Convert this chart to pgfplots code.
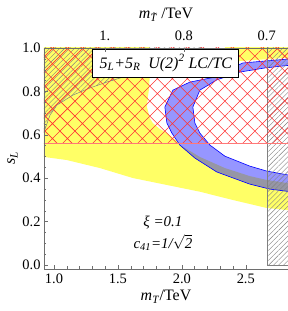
\documentclass[border=0pt]{standalone}
\usepackage{pgfplots}
\pgfplotsset{compat=1.18}
\usepackage{fontspec}
\setmainfont{Liberation Serif}
\usetikzlibrary{patterns.meta}
\definecolor{yel}{RGB}{255,255,102}
\definecolor{bluefill}{RGB}{150,150,255}
\definecolor{grayov}{RGB}{150,150,165}
\definecolor{redhatch}{RGB}{255,50,50}
\definecolor{redborder}{RGB}{255,120,120}
\definecolor{framecol}{RGB}{110,110,110}
\begin{document}
\begin{tikzpicture}
\begin{axis}[name=ax, scale only axis, width=244bp, height=221bp,
 xmin=0.922, xmax=2.83, ymin=-0.018, ymax=1.0,
 xtick={1.0,1.5,2.0,2.5}, xticklabels={1.0,1.5,2.0,2.5}, minor x tick num=4,
 ytick={0,0.2,0.4,0.6,0.8,1.0}, yticklabels={0.0,0.2,0.4,0.6,0.8,1.0}, minor y tick num=3,
 xtick pos=bottom, ytick pos=left, tick align=inside,
 major tick length=4bp, minor tick length=2.5bp,
 tick style={framecol, line width=0.4bp},
 axis line style={line width=0.5bp, framecol},
 ticklabel style={font=\fontsize{14.5}{16}\selectfont},
 xticklabel style={yshift=-1bp},
 xlabel={\textit{m}\textsubscript{\textit{T}}/TeV}, ylabel={\textit{s}\textsubscript{\textit{L}}},
 label style={font=\fontsize{16}{18}\selectfont},
 xlabel style={yshift=0bp}, ylabel style={yshift=-2bp},
 axis on top]
% yellow main region
\addplot[fill=yel, draw=none] coordinates {(0.90,1.02) (1.75,1.02) (1.75,0.876) (1.742,0.806) (1.734,0.774) (1.727,0.728) (1.75,0.677) (1.773,0.654) (1.828,0.627) (1.883,0.608) (1.930,0.585) (1.984,0.562) (2.0,0.548) (2.141,0.498) (2.336,0.447) (2.531,0.410) (2.664,0.392) (2.85,0.376) (2.85,0.252) (2.664,0.263) (2.398,0.300) (2.141,0.338) (1.883,0.369) (1.617,0.401) (1.359,0.447) (1.099,0.484) (0.90,0.50)} -- cycle;
% yellow top-right strip
\addplot[fill=yel, draw=none] coordinates {(2.336,1.02) (2.85,1.02) (2.85,0.956) (2.453,0.940) (2.336,0.935)} -- cycle;
% blue band
\addplot[fill=bluefill, draw=none] coordinates {(2.85,0.950) (2.648,0.940) (2.477,0.931) (2.359,0.899) (2.258,0.866) (2.063,0.843) (1.930,0.806) (1.867,0.728) (1.883,0.654) (1.922,0.608) (1.984,0.553) (2.102,0.493) (2.273,0.429) (2.531,0.373) (2.688,0.350) (2.85,0.338) (2.85,0.413) (2.664,0.433) (2.531,0.456) (2.336,0.502) (2.219,0.553) (2.141,0.608) (2.102,0.654) (2.086,0.728) (2.141,0.806) (2.273,0.853) (2.453,0.889) (2.648,0.908) (2.85,0.921)} -- cycle;
% overlap
\addplot[fill=grayov, draw=none] coordinates {(1.984,0.553) (2.102,0.493) (2.273,0.429) (2.531,0.373) (2.688,0.350) (2.85,0.338) (2.85,0.376) (2.664,0.392) (2.531,0.410) (2.336,0.447) (2.141,0.498) (2.0,0.548)} -- cycle;
\addplot[draw=blue, line width=0.6bp] coordinates {(2.85,0.950) (2.648,0.940) (2.477,0.931) (2.359,0.899) (2.258,0.866) (2.063,0.843) (1.930,0.806) (1.867,0.728) (1.883,0.654) (1.922,0.608) (1.984,0.553) (2.102,0.493) (2.273,0.429) (2.531,0.373) (2.688,0.350) (2.85,0.338)};
\addplot[draw=blue, line width=0.6bp] coordinates {(2.85,0.413) (2.664,0.433) (2.531,0.456) (2.336,0.502) (2.219,0.553) (2.141,0.608) (2.102,0.654) (2.086,0.728) (2.141,0.806) (2.273,0.853) (2.453,0.889) (2.648,0.908) (2.85,0.921)};
% gray hatched top-left
\addplot[pattern={Lines[angle=45,distance=3.5bp,line width=0.4bp]}, pattern color=gray, draw=none] coordinates {(0.90,0.58) (0.922,0.613) (0.969,0.691) (1.023,0.737) (1.148,0.783) (1.281,0.816) (1.414,0.843) (1.539,0.866) (1.828,0.922) (2.219,1.02) (0.90,1.02)} -- cycle;
\addplot[draw=gray, line width=0.5bp] coordinates {(0.922,0.613) (0.969,0.691) (1.023,0.737) (1.148,0.783) (1.281,0.816) (1.414,0.843) (1.539,0.866) (1.828,0.922) (2.219,1.02)};
% gray hatched right strip
\addplot[pattern={Lines[angle=45,distance=3.5bp,line width=0.4bp]}, pattern color=gray, draw=none] coordinates {(2.669,0) (2.85,0) (2.85,1.02) (2.669,1.02)} -- cycle;
\addplot[draw=gray, line width=0.5bp] coordinates {(2.85,0) (2.669,0) (2.669,1.02)};
% red crosshatch
\addplot[pattern={Hatch[angle=45,distance=10.6bp,line width=0.6bp]}, pattern color=redhatch, draw=none] coordinates {(0.90,0.561) (2.85,0.561) (2.85,1.0) (0.90,1.0)} -- cycle;
\addplot[draw=redborder, line width=1.3bp] coordinates {(0.90,0.561) (2.85,0.561)};
% labels
\node[draw=black, fill=white, line width=0.8bp, inner sep=2bp, minimum width=146bp, minimum height=28bp, font=\fontsize{16}{17}\selectfont\itshape] at (axis cs:1.875,0.931) {5\textsubscript{L}+5\textsubscript{R}\ \ U(2)\textsuperscript{2} LC/TC};
\node[font=\fontsize{15}{21}\selectfont\itshape, align=center] at (axis cs:1.852,0.148) {ξ\ =0.1\\[1bp]c\textsubscript{41}=1/$\sqrt{\mbox{\itshape 2}}$};
\end{axis}
\begin{axis}[scale only axis, width=244bp, height=221bp,
 xmin=0.922, xmax=2.83, ymin=-0.018, ymax=1.0,
 axis x line*=top, axis y line=none,
 xtick={1.398,2.016,2.664}, xticklabels={1.,0.8,0.7},
 tick align=inside, major tick length=4bp,
 tick style={framecol, line width=0.4bp},
 axis line style={line width=0.5bp, framecol},
 ticklabel style={font=\fontsize{14.5}{16}\selectfont},
 xticklabel style={yshift=4bp},
 xlabel={\textit{m}\textsubscript{\textit{\~{T}}}/TeV},
 label style={font=\fontsize{16}{18}\selectfont}, xlabel style={yshift=2bp}]
\end{axis}
\pgfresetboundingbox
\path[use as bounding box] ([xshift=-44bp,yshift=-42bp]ax.south west) rectangle ([yshift=48bp]ax.north east);
\end{tikzpicture}
\end{document}
